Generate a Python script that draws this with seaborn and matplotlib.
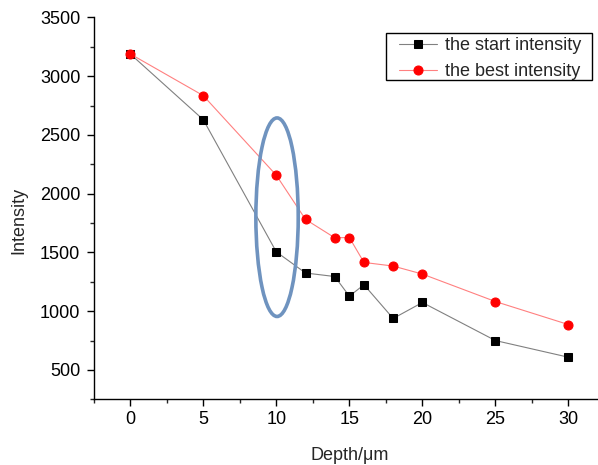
import matplotlib
matplotlib.use("Agg")
import matplotlib.pyplot as plt
import seaborn as sns
import pandas as pd
from matplotlib.patches import Ellipse, Rectangle
from matplotlib.ticker import MultipleLocator

depth = [0, 5, 10, 12, 14, 15, 16, 18, 20, 25, 30]
start_intensity = [3190, 2630, 1505, 1325, 1295, 1128, 1225, 938, 1074, 750, 608]
best_intensity = [3190, 2835, 2157, 1781, 1625, 1627, 1415, 1384, 1316, 1082, 886]
series_names = ["the start intensity", "the best intensity"]

sns.set_style("ticks")
plt.rcParams['font.family'] = ['Liberation Sans', 'DejaVu Sans']

W, H = 598, 465
fig = plt.figure(figsize=(W / 100, H / 100), dpi=100)
ax = fig.add_axes([0.1567, 0.1413, 0.855, 0.8211])

df_start = pd.DataFrame({"Depth": depth, "Intensity": start_intensity})
df_best = pd.DataFrame({"Depth": depth, "Intensity": best_intensity})

sns.lineplot(data=df_start, x="Depth", y="Intensity", ax=ax, color="#808080", lw=0.8,
             marker="s", markersize=5.5, markerfacecolor="black", markeredgecolor="black",
             label=series_names[0])
sns.lineplot(data=df_best, x="Depth", y="Intensity", ax=ax, color="#ff8080", lw=0.8,
             marker="o", markersize=6.5, markerfacecolor="red", markeredgecolor="red",
             label=series_names[1])

ax.add_patch(Ellipse((10.05, 1800), 2.9, 1690, fill=False, edgecolor="#6f93bf", lw=2.6, zorder=5))

ax.set_xlim(-2.5, 32.5)
ax.set_ylim(250, 3500)
ax.xaxis.set_major_locator(MultipleLocator(5))
ax.xaxis.set_minor_locator(MultipleLocator(2.5))
ax.yaxis.set_minor_locator(MultipleLocator(250))
ax.set_yticks([500, 1000, 1500, 2000, 2500, 3000, 3500])

sns.despine(ax=ax)
for s in ["left", "bottom"]:
    ax.spines[s].set_linewidth(1.0)
    ax.spines[s].set_color("black")
ax.tick_params(which="major", direction="out", length=5.2, width=1.0, labelsize=13, colors="black")
ax.tick_params(axis="y", which="major", pad=4.5)
ax.tick_params(which="minor", direction="out", length=3, width=1.0)

ax.set_xlabel("Depth/\u03bcm", fontsize=13, va="top")
ax.set_ylabel("Intensity", fontsize=13)
ax.yaxis.set_label_coords(-0.130, 0.468)
ax.xaxis.set_label_coords(0.5, -0.125)

leg = ax.legend(loc="upper right", bbox_to_anchor=(581 / W, 1 - 37 / H),
                bbox_transform=fig.transFigure, fontsize=13, frameon=False,
                handlelength=2.1, borderpad=0, labelspacing=0.5,
                handletextpad=0.45, borderaxespad=0)

# legend frame box
fig.patches.append(Rectangle((386 / W, 1 - 80 / H), (592 - 386) / W, (80 - 33) / H,
                             transform=fig.transFigure, fill=False, edgecolor="black",
                             lw=1.0, zorder=10))

fig.savefig("out.png", dpi=100)
